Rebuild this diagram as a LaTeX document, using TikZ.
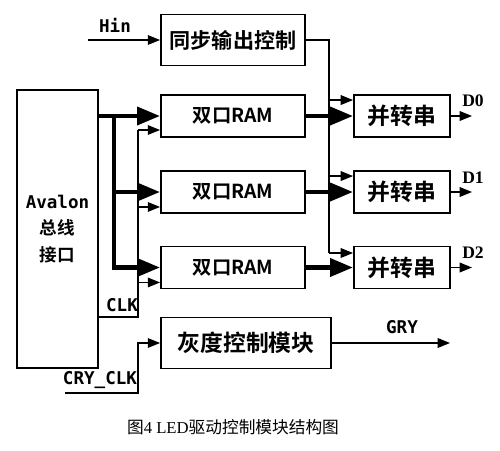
\documentclass[tikz,border=0pt]{standalone}
\usepackage{fontspec}
\setmainfont{Liberation Serif}
\newfontfamily\cjk{Noto Sans CJK SC}
\newfontfamily\cjkb{Noto Sans CJK SC Bold}
\newfontfamily\lmono{DejaVu Sans Mono}
\usetikzlibrary{arrows.meta}
\usetikzlibrary{calc}

\begin{document}
\begin{tikzpicture}[x=0.02cm, y=-0.02cm,
    >={Triangle[length=7pt,width=5.5pt]},
    blk/.style={draw, line width=1.1pt, minimum height=0.84cm, inner sep=0pt,
      font=\cjkb\fontsize{11}{13}\selectfont},
    bus/.style={line width=2.6pt, -{Triangle[length=13pt,width=10pt]}},
    sig/.style={line width=0.7pt},
    lbl/.style={font=\lmono\bfseries\fontsize{10}{12}\selectfont, inner sep=0pt},
    outlbl/.style={font=\bfseries\fontsize{10}{12}\selectfont, inner sep=0pt}]
  \useasboundingbox (0,0) rectangle (500,450);

  % blocks
  \node[blk, minimum width=2.88cm, minimum height=1.02cm, font=\cjkb\fontsize{12}{14}\selectfont]
    (sync) at (233,40) {\raisebox{-5pt}{同步输出控制}};
  \node[draw, line width=1.1pt, minimum width=1.62cm, minimum height=5.56cm, inner sep=0pt,
    align=center, font=\cjkb\fontsize{10}{15}\selectfont]
    (avalon) at (57.5,229) {{\lmono\bfseries Avalon}\\总线\\接口};
  \node[blk, minimum width=2.88cm] (ram1) at (233,116) {双口RAM};
  \node[blk, minimum width=2.88cm] (ram2) at (233,192) {双口RAM};
  \node[blk, minimum width=2.88cm] (ram3) at (233,267.5) {双口RAM};
  \node[blk, minimum width=1.92cm, font=\cjkb\fontsize{13}{15}\selectfont] (ps1) at (402,116) {并转串};
  \node[blk, minimum width=1.92cm, font=\cjkb\fontsize{13}{15}\selectfont] (ps2) at (402,192) {并转串};
  \node[blk, minimum width=1.92cm, font=\cjkb\fontsize{13}{15}\selectfont] (ps3) at (402,267.5) {并转串};
  \node[blk, minimum width=3.4cm, minimum height=1.02cm, font=\cjkb\fontsize{13}{15}\selectfont]
    (gray) at (246,343) {灰度控制模块};

  % Hin -> sync
  \coordinate (hin) at (88,40);
  \node[lbl] (hinlbl) at (115,25) {Hin};
  \draw[sig,->] (hin) -- (sync);

  % sync -> parallel/serial
  \coordinate (sj) at (329,40);
  \coordinate (sbot) at (329,253);
  \draw[sig] (sync.east) -- (sj) -- (sbot);
  \draw[sig,->] ($(sj |- ps1.north)+(0,6)$) -- ($(ps1.north west)+(0,6)$);
  \draw[sig,->] ($(sj |- ps2.north)+(0,6)$) -- ($(ps2.north west)+(0,6)$);
  \draw[sig,->] (sbot) -- (sbot -| ps3.west);

  % data bus
  \coordinate (bj) at (114,116);
  \draw[bus] (avalon.east |- ram1) -- (ram1);
  \draw[bus] (bj |- ram2) -- (ram2);
  \draw[bus] (bj) |- (ram3);
  \draw[bus] (ram1) -- (ps1);
  \draw[bus] (ram2) -- (ps2);
  \draw[bus] (ram3) -- (ps3);

  % CLK
  \coordinate (cj) at (138,317);
  \coordinate (ctop) at (138,130);
  \node[lbl] (clklbl) at (122,305) {CLK};
  \draw[sig] (avalon.east |- cj) -- (cj) -- (ctop);
  \draw[sig,->] (ctop) -- (ctop -| ram1.west);
  \draw[sig,->] ($(cj |- ram2.south)+(0,-7)$) -- ($(ram2.south west)+(0,-7)$);
  \draw[sig,->] ($(cj |- ram3.south)+(0,-7)$) -- ($(ram3.south west)+(0,-7)$);

  % CRY_CLK -> gray
  \coordinate (cry) at (65,393);
  \coordinate (gj) at (138,343);
  \node[lbl] (crylbl) at (100,380) {CRY\_CLK};
  \draw[sig,->] (cry) -| (gj) -- (gray);

  % outputs
  \coordinate (out0) at (472,116);
  \coordinate (out1) at (472,192);
  \coordinate (out2) at (472,267.5);
  \coordinate (gryout) at (450,343);
  \draw[sig,->] (ps1) -- (out0);
  \draw[sig,->] (ps2) -- (out1);
  \draw[sig,->] (ps3) -- (out2);
  \draw[sig,->] (gray) -- (gryout);
  \node[outlbl] (d0lbl) at (473,101) {D0};
  \node[outlbl] (d1lbl) at (473,178) {D1};
  \node[outlbl] (d2lbl) at (473,253) {D2};
  \node[lbl] (grylbl) at (402,327) {GRY};

  % caption
  \node[font=\fontsize{9.5}{11}\selectfont] (cap) at (233,427)
    {{\cjk 图}4 LED{\cjk 驱动控制模块结构图}};
\end{tikzpicture}
\end{document}
